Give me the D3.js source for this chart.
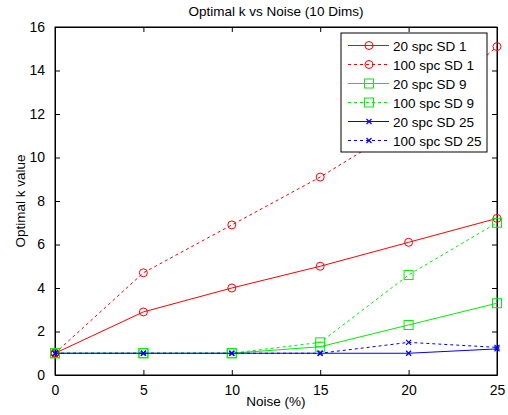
<!DOCTYPE html>
<html>
<head>
<meta charset="utf-8">
<script src="https://cdn.jsdelivr.net/npm/d3@7"></script>
<style>
  body { margin: 0; background: #fff; }
  text { font-family: "Liberation Sans", Arial, sans-serif; font-size: 13.5px; fill: #000; }
</style>
</head>
<body>
<div id="chart"></div>
<script>
// datos
const noise = [0, 5, 10, 15, 20, 25];
const spc20sd1 = [1, 2.9, 4.0, 5.0, 6.1, 7.2];
const spc100sd1 = [1, 4.7, 6.9, 9.1, 11.6, 15.1];
const spc20sd9 = [1, 1, 1, 1.3, 2.3, 3.3];
const spc100sd9 = [1, 1, 1, 1.5, 4.6, 7.0];
const spc20sd25 = [1, 1, 1, 1, 1, 1.2];
const spc100sd25 = [1, 1, 1, 1, 1.5, 1.27];
const xTicks = [0, 5, 10, 15, 20, 25];
const yTicks = [0, 2, 4, 6, 8, 10, 12, 14, 16];

const series = [
  { name: "20 spc SD 1", values: spc20sd1, color: "#ff0000", dash: null, marker: "circle" },
  { name: "100 spc SD 1", values: spc100sd1, color: "#ff0000", dash: "3,3", marker: "circle" },
  { name: "20 spc SD 9", values: spc20sd9, color: "#00ee00", dash: null, marker: "square" },
  { name: "100 spc SD 9", values: spc100sd9, color: "#00ee00", dash: "3,3", marker: "square" },
  { name: "20 spc SD 25", values: spc20sd25, color: "#0000ff", dash: null, marker: "x" },
  { name: "100 spc SD 25", values: spc100sd25, color: "#0000ff", dash: "3,3", marker: "x" }
];

const width = 508, height = 415;
const plotL = 55, plotR = 497, plotT = 27, plotB = 375;

const svg = d3.select("#chart").append("svg")
  .attr("width", width).attr("height", height);

const x = d3.scaleLinear().domain([0, 25]).range([plotL, plotR]);
const y = d3.scaleLinear().domain([0, 16]).range([plotB, plotT]);

// ejes con ticks hacia dentro, en los cuatro lados
svg.append("g").attr("transform", `translate(0,${plotB})`)
  .call(d3.axisBottom(x).tickValues(xTicks).tickSizeInner(-5).tickSizeOuter(0).tickPadding(10));
svg.append("g").attr("transform", `translate(${plotL},0)`)
  .call(d3.axisLeft(y).tickValues(yTicks).tickSizeInner(-5).tickSizeOuter(0).tickPadding(10));
svg.append("g").attr("transform", `translate(0,${plotT})`)
  .call(d3.axisTop(x).tickValues(xTicks).tickSizeInner(-5).tickSizeOuter(0).tickFormat(""));
svg.append("g").attr("transform", `translate(${plotR},0)`)
  .call(d3.axisRight(y).tickValues(yTicks).tickSizeInner(-5).tickSizeOuter(0).tickFormat(""));

svg.selectAll(".domain").attr("stroke", "#000");
svg.selectAll(".tick line").attr("stroke", "#000");
svg.selectAll(".tick text").style("font-size", "14px").attr("fill", "#000")
  .style("font-family", "'Liberation Sans', Arial, sans-serif");

svg.append("rect")
  .attr("x", plotL).attr("y", plotT)
  .attr("width", plotR - plotL).attr("height", plotB - plotT)
  .attr("fill", "none").attr("stroke", "#000");

const line = d3.line().x((d, i) => x(noise[i])).y(d => y(d));

function drawMarker(g, type, cx, cy, color) {
  if (type === "circle") {
    g.append("circle").attr("cx", cx).attr("cy", cy).attr("r", 4)
      .attr("fill", "none").attr("stroke", color);
  } else if (type === "square") {
    g.append("rect").attr("x", cx - 4.5).attr("y", cy - 4.5)
      .attr("width", 9).attr("height", 9)
      .attr("fill", "none").attr("stroke", color);
  } else {
    g.append("path")
      .attr("d", `M${cx - 2.5},${cy - 2.5}L${cx + 2.5},${cy + 2.5}M${cx - 2.5},${cy + 2.5}L${cx + 2.5},${cy - 2.5}`)
      .attr("stroke", color).attr("stroke-width", 1.2);
  }
}

series.forEach(s => {
  const g = svg.append("g");
  g.append("path")
    .attr("d", line(s.values))
    .attr("fill", "none")
    .attr("stroke", s.color)
    .attr("stroke-width", 1)
    .attr("stroke-dasharray", s.dash);
  s.values.forEach((v, i) => drawMarker(g, s.marker, x(noise[i]), y(v), s.color));
});

// leyenda
const legend = svg.append("g");
legend.append("rect")
  .attr("x", 341).attr("y", 33).attr("width", 146).attr("height", 119)
  .attr("fill", "#fff").attr("stroke", "#000");
series.forEach((s, i) => {
  const ly = 45.5 + i * 19;
  legend.append("line")
    .attr("x1", 348).attr("x2", 389).attr("y1", ly).attr("y2", ly)
    .attr("stroke", s.color).attr("stroke-dasharray", s.dash);
  drawMarker(legend, s.marker, 369, ly, s.color);
  legend.append("text").attr("x", 393).attr("y", ly + 5).text(s.name);
});

// titulos
svg.append("text").attr("x", (plotL + plotR) / 2).attr("y", 16)
  .attr("text-anchor", "middle").text("Optimal k vs Noise (10 Dims)");
svg.append("text").attr("x", (plotL + plotR) / 2).attr("y", 406)
  .attr("text-anchor", "middle").text("Noise (%)");
svg.append("text")
  .attr("transform", `translate(25,${(plotT + plotB) / 2}) rotate(-90)`)
  .attr("text-anchor", "middle").text("Optimal k value");
</script>
</body>
</html>
